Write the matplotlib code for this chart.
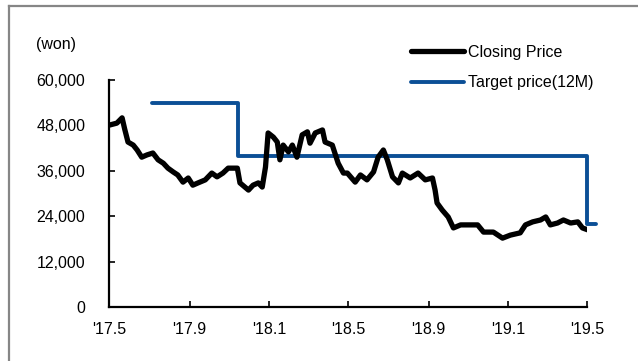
import numpy as np
import pandas as pd
import matplotlib
matplotlib.use("Agg")
import matplotlib.pyplot as plt
import matplotlib.ticker as ticker
from matplotlib.lines import Line2D

plt.rcParams["font.family"] = ["Liberation Sans", "DejaVu Sans"]

# Closing price (won), sampled roughly weekly
price_dates = [
    "2017-05-02", "2017-05-13", "2017-05-21", "2017-05-25", "2017-05-30",
    "2017-06-07", "2017-06-13", "2017-06-20", "2017-06-28", "2017-07-07",
    "2017-07-15", "2017-07-23", "2017-07-30", "2017-08-07", "2017-08-14",
    "2017-08-22", "2017-08-30", "2017-09-06", "2017-09-14", "2017-09-25",
    "2017-10-05", "2017-10-13", "2017-10-22", "2017-10-30", "2017-11-13",
    "2017-11-17", "2017-11-30", "2017-12-07", "2017-12-15", "2017-12-21",
    "2017-12-26", "2017-12-30", "2018-01-07", "2018-01-13", "2018-01-17",
    "2018-01-22", "2018-01-30", "2018-02-05", "2018-02-12", "2018-02-20",
    "2018-02-28", "2018-03-04", "2018-03-12", "2018-03-23", "2018-03-27",
    "2018-04-07", "2018-04-16", "2018-04-24", "2018-04-30", "2018-05-12",
    "2018-05-20", "2018-05-30", "2018-06-09", "2018-06-16", "2018-06-24",
    "2018-06-30", "2018-07-08", "2018-07-17", "2018-07-23", "2018-08-04",
    "2018-08-16", "2018-08-27", "2018-09-07", "2018-09-11", "2018-09-14",
    "2018-09-22", "2018-10-01", "2018-10-09", "2018-10-20", "2018-11-04",
    "2018-11-15", "2018-11-24", "2018-12-09", "2018-12-23", "2019-01-04",
    "2019-01-19", "2019-01-27", "2019-02-07", "2019-02-19", "2019-02-27",
    "2019-03-06", "2019-03-17", "2019-03-26", "2019-04-06", "2019-04-17",
    "2019-04-24", "2019-05-02",
]
price_values = [
    48100, 48600, 50000, 47000, 43600,
    42800, 41500, 39600, 40200, 40700,
    38900, 38000, 36700, 35700, 34900,
    33000, 34100, 32200, 32800, 33600,
    35400, 34400, 35400, 36700, 36700,
    32800, 30900, 32200, 32800, 31700,
    37000, 46000, 44900, 43600, 38900,
    42800, 41000, 42800, 39600, 45500,
    46300, 43300, 46000, 46800, 43600,
    42800, 38000, 35400, 35400, 33000,
    34900, 33600, 35700, 39600, 41500,
    38900, 34400, 32800, 35400, 34100,
    35400, 33600, 34100, 30900, 27500,
    25600, 23800, 20900, 21700, 21700,
    21700, 19800, 19800, 18200, 19000,
    19600, 21700, 22500, 23000, 23800,
    21700, 22200, 23000, 22200, 22500,
    20900, 20400,
]

# 12-month target price changes
target_dates = ["2017-07-06", "2017-11-14", "2019-05-01", "2019-05-14"]
target_values = [54000, 40000, 22000, 22000]

tick_dates = ["2017-05-01", "2017-09-01", "2018-01-01", "2018-05-01",
              "2018-09-01", "2019-01-01", "2019-05-01"]
tick_labels = ["'17.5", "'17.9", "'18.1", "'18.5", "'18.9", "'19.1", "'19.5"]

fig = plt.figure(figsize=(6.38, 3.61), dpi=100)
ax = fig.add_axes([109 / 638, 1 - 307 / 361, (587 - 109) / 638, (307 - 80) / 361])

ax.plot(pd.to_datetime(price_dates), price_values, color="black", lw=3.8,
        solid_joinstyle="round", solid_capstyle="round", label="Closing Price",
        zorder=3)
ax.plot(pd.to_datetime(target_dates), target_values, color="#0b4f96", lw=2.8,
        drawstyle="steps-post", label="Target price(12M)", clip_on=False,
        solid_capstyle="round", zorder=2)

ax.set_xlim(pd.Timestamp(tick_dates[0]), pd.Timestamp(tick_dates[-1]))
ax.set_ylim(0, 60000)
ax.set_xticks(pd.to_datetime(tick_dates))
ax.set_xticklabels(tick_labels)
ax.yaxis.set_major_locator(ticker.FixedLocator(range(0, 60001, 12000)))
ax.yaxis.set_major_formatter(ticker.FuncFormatter(lambda v, p: f"{int(v):,}"))

for side in ["top", "right"]:
    ax.spines[side].set_visible(False)
for side in ["left", "bottom"]:
    ax.spines[side].set_linewidth(1.6)
ax.tick_params(axis="both", direction="in", length=4, width=1.2, labelsize=11.5)
ax.tick_params(axis="y", pad=17)
ax.tick_params(axis="x", pad=11)

fig.text(36 / 638, 1 - 45 / 361, "(won)", fontsize=11.5, ha="left", va="center")

ax.legend(loc="upper left", bbox_to_anchor=(403 / 638, 1 - 37 / 361),
          bbox_transform=fig.transFigure, frameon=False, fontsize=11.5,
          borderpad=0, handlelength=3.3, handletextpad=0.25, labelspacing=0.95)

# grey frame along the top and left edges
fig.add_artist(Line2D([9 / 638, 1], [1 - 6 / 361, 1 - 6 / 361],
                      transform=fig.transFigure, color="#868686", lw=1.6))
fig.add_artist(Line2D([9 / 638, 9 / 638], [0, 1 - 6 / 361],
                      transform=fig.transFigure, color="#868686", lw=1.6))

plt.savefig("out.png", dpi=100)
plt.close()
